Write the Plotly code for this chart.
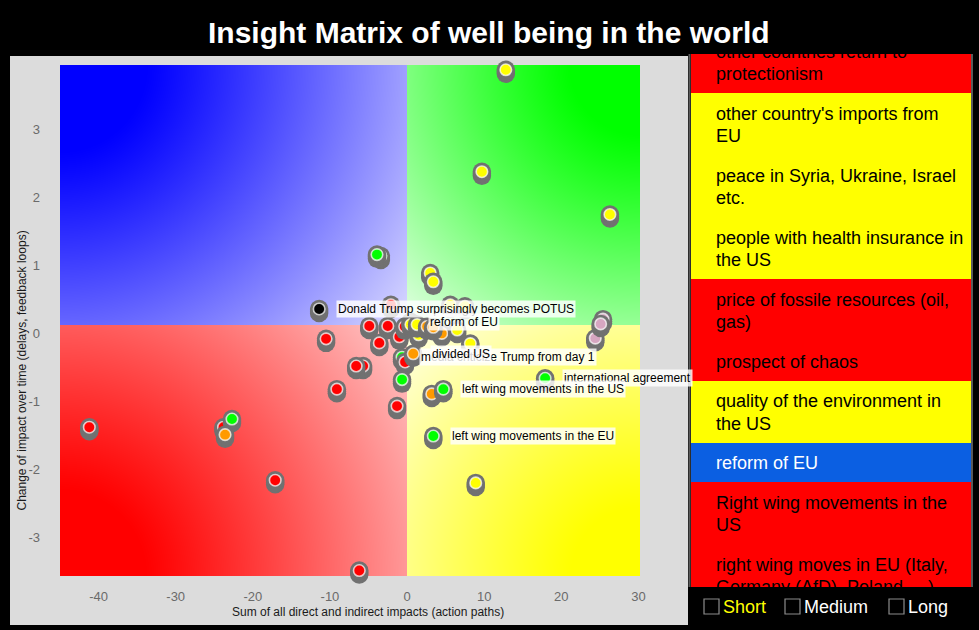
import base64
import struct
import zlib

import numpy as np
import plotly.graph_objects as go

# ---------------- data ----------------
TITLE = "Insight Matrix of well being in the world"
X_TITLE = "Sum of all direct and indirect impacts (action paths)"
Y_TITLE = "Change of impact over time (delays, feedback loops)"

x_ticks = [-40, -30, -20, -10, 0, 10, 20, 30]
x_tick_text = ["-40", "-30", "-20", "-10", "0", "10", "20", "30"]
y_ticks = [-3, -2, -1, 0, 1, 2, 3]
y_tick_text = ["-3", "-2", "-1", "0", "1", "2", "3"]

# factor positions (sum of impacts, change over time) and colour class, in drawing order
pt_x = [-41.2, -23.8, -22.7, -23.6, -17.1, -6.2, -10.5, -9.1, -5.7, -6.6,
        -1.3, -3.4, -3.9, 12.8, 9.7, 26.3, 3.0, 3.4, 8.2, 8.9,
        24.4, 25.4, 25.1, -2.1, 5.6, 7.5, -3.6, -4.9, -2.5, -1.0,
        1.5, 4.5, 6.5, -0.3, 0.45, 0.5, 1.3, 2.6, 3.4, -0.65,
        -0.26, 0.8, -0.65, 3.2, 4.7, 3.4, 17.9, -11.4]
pt_y = [-1.38, -1.38, -1.26, -1.49, -2.16, -3.49, -0.08, -0.82, -0.48, -0.48,
        -1.07, 1.14, 1.16, 3.88, 2.38, 1.75, 0.89, 0.76, -0.15, -2.20,
        -0.07, 0.21, 0.14, 0.42, 0.42, 0.40, -0.14, 0.11, 0.11, -0.05,
        -0.02, 0.0, 0.05, 0.10, 0.17, 0.13, 0.13, 0.10, 0.09, -0.35,
        -0.42, -0.30, -0.68, -0.89, -0.82, -1.51, -0.66, 0.36]
pt_cls = ["red", "red", "green", "orange", "red", "red", "red", "red", "red", "red",
          "red", "green", "green", "yellow", "yellow", "yellow", "yellow", "yellow", "yellow", "yellow",
          "mauve", "mauve", "mauve", "red", "yellow", "yellow", "red", "red", "red", "red",
          "yellow", "orange", "yellow", "red", "green", "yellow", "yellow", "orange", "orange", "green",
          "red", "orange", "green", "orange", "green", "green", "green", "black"]

label_idx = [39, 41, 46, 44, 45, 47, 34]
label_txt = ["media criticize Trump from day 1", "divided US", "international agreement",
             "left wing movements in the US", "left wing movements in the EU",
             "Donald Trump surprisingly becomes POTUS", "reform of EU"]

list_lines = [
    ["other countries return to", "protectionism"],
    ["other country's imports from", "EU"],
    ["peace in Syria, Ukraine, Israel", "etc."],
    ["people with health insurance in", "the US"],
    ["price of fossile resources (oil,", "gas)"],
    ["prospect of chaos"],
    ["quality of the environment in", "the US"],
    ["reform of EU"],
    ["Right wing movements in the", "US"],
    ["right wing moves in EU (Italy,", "Germany (AfD), Poland, ...)"],
]
list_cls = ["red", "yellow", "yellow", "yellow", "red", "red", "yellow", "selected", "red", "red"]

timeframes = ["Short", "Medium", "Long"]
timeframe_active = [True, False, False]

# ---------------- styling ----------------
FONT = "Liberation Sans, Arial, Helvetica, sans-serif"
COLORS = {"red": "#ff0000", "green": "#00ff00", "yellow": "#ffff00", "orange": "#ff9a00",
          "mauve": "#d6a6c1", "black": "#000000", "selected": "#0b5fe2"}

FIG_W, FIG_H = 979, 630
PLOT_L, PLOT_R, PLOT_T, PLOT_B = 60, 640, 65, 576
X_RANGE = [-45.0, 30.2]
Y_RANGE = [-3.57, 3.95]
X_SPLIT, Y_SPLIT = 0.0, 0.125
LIST_L, LIST_R, LIST_T, LIST_B = 691, 971, 54, 587
LIST_SCROLL = -23.0
LINE_H = 22.5


def fx(px):
    return px / FIG_W


def fy(py):
    return 1 - py / FIG_H


# ---------------- quadrant gradient background ----------------
PW, PH = PLOT_R - PLOT_L, PLOT_B - PLOT_T
sx = (X_SPLIT - X_RANGE[0]) / (X_RANGE[1] - X_RANGE[0]) * PW
sy = (Y_RANGE[1] - Y_SPLIT) / (Y_RANGE[1] - Y_RANGE[0]) * PH
cc, rr = np.meshgrid(np.arange(PW) + 0.5, np.arange(PH) + 0.5)
img = np.zeros((PH, PW, 3), dtype=float)
quads = [  # (left?, top?, full colour, max whiteness)
    (True, True, (0, 0, 255), 0.86),
    (False, True, (0, 255, 0), 0.90),
    (True, False, (255, 0, 0), 0.80),
    (False, False, (255, 255, 0), 0.92),
]
for left, top, full, wmax in quads:
    ox = 0.0 if left else PW
    oy = 0.0 if top else PH
    mask = ((cc < sx) == left) & ((rr < sy) == top)
    diag = np.hypot(sx - ox, sy - oy)
    d = np.hypot(cc - ox, rr - oy) / diag
    w = wmax * np.clip((d - 0.2) / 0.8, 0, 1) ** 1.1
    for k in range(3):
        img[..., k] = np.where(mask, full[k] * (1 - w) + 255 * w, img[..., k])
img = np.clip(np.round(img), 0, 255).astype(np.uint8)


def to_png(arr):
    h, w, _ = arr.shape
    raw = b"".join(b"\x00" + arr[i].tobytes() for i in range(h))

    def chunk(t, data):
        return struct.pack(">I", len(data)) + t + data + struct.pack(">I", zlib.crc32(t + data) & 0xFFFFFFFF)

    return (b"\x89PNG\r\n\x1a\n" + chunk(b"IHDR", struct.pack(">IIBBBBB", w, h, 8, 2, 0, 0, 0))
            + chunk(b"IDAT", zlib.compress(raw, 9)) + chunk(b"IEND", b""))


bg_uri = "data:image/png;base64," + base64.b64encode(to_png(img)).decode()

# ---------------- figure ----------------
fig = go.Figure()

# markers: gray 3D button (shadow) + coloured cap, drawn point by point
ppu = PH / (Y_RANGE[1] - Y_RANGE[0])
mx, my, ms, mc, mlc, mlw = [], [], [], [], [], []
for x, y, c in zip(pt_x, pt_y, pt_cls):
    for off in (4, 2, 0):
        mx.append(x); my.append(y - off / ppu); ms.append(18.5); mc.append("#717171")
        mlc.append("rgba(0,0,0,0)"); mlw.append(0)
    mx.append(x); my.append(y); ms.append(11.5); mc.append(COLORS[c])
    mlc.append("rgba(255,255,255,0.72)"); mlw.append(1.6)

fig.add_trace(go.Scatter(
    x=mx, y=my, mode="markers", cliponaxis=False, hoverinfo="skip", showlegend=False,
    marker=dict(size=ms, color=mc, line=dict(color=mlc, width=mlw), opacity=1),
))

# list on the right
heights = [17 + LINE_H * len(lines) for lines in list_lines]
tops = []
acc = LIST_SCROLL
for h in heights:
    tops.append(acc)
    acc += h
fig.add_trace(go.Bar(
    x=[LIST_R - LIST_L] * len(list_lines), y=[t + h / 2 for t, h in zip(tops, heights)],
    width=heights, base=0, orientation="h", xaxis="x2", yaxis="y2",
    marker=dict(color=[COLORS[c] for c in list_cls], line=dict(width=0)),
    hoverinfo="skip", showlegend=False,
))
tx, ty, tt, tc = [], [], [], []
for lines, top, h, c in zip(list_lines, tops, heights, list_cls):
    first = top + (h - LINE_H * (len(lines) - 1)) / 2 + 2.5
    for k, line in enumerate(lines):
        tx.append(25); ty.append(first + LINE_H * k); tt.append(line)
        tc.append("#ffffff" if c == "selected" else "#000000")
fig.add_trace(go.Scatter(
    x=tx, y=ty, text=tt, mode="text", textposition="middle right", xaxis="x2", yaxis="y2",
    textfont=dict(family=FONT, size=18, color=tc), hoverinfo="skip", showlegend=False,
))

shapes = [
    dict(type="rect", xref="paper", yref="paper", x0=fx(10), x1=fx(688), y0=fy(625), y1=fy(56),
         fillcolor="#dcdcdc", line=dict(width=0), layer="below"),
    dict(type="line", xref="paper", yref="paper", x0=fx(689.5), x1=fx(689.5), y0=fy(LIST_B), y1=fy(LIST_T),
         line=dict(color="#5a5a5a", width=2)),
    dict(type="line", xref="paper", yref="paper", x0=fx(972), x1=fx(972), y0=fy(LIST_B), y1=fy(LIST_T),
         line=dict(color="#5a5a5a", width=2)),
]

annotations = [
    dict(text="<b>" + TITLE + "</b>", xref="paper", yref="paper", x=fx(489), y=fy(32),
         xanchor="center", yanchor="middle", showarrow=False,
         font=dict(family=FONT, size=30, color="#ffffff")),
    dict(text=X_TITLE, xref="paper", yref="paper", x=fx(368), y=fy(612), xanchor="center",
         yanchor="middle", showarrow=False, font=dict(family=FONT, size=12, color="#1a1a1a")),
    dict(text=Y_TITLE, xref="paper", yref="paper", x=fx(21.5), y=fy(371), xanchor="center",
         yanchor="middle", textangle=-90, showarrow=False, font=dict(family=FONT, size=12, color="#1a1a1a")),
]
for i, txt in zip(label_idx, label_txt):
    annotations.append(dict(
        text=txt, x=pt_x[i], y=pt_y[i], xref="x", yref="y", xanchor="left", yanchor="middle",
        xshift=17, showarrow=False, bgcolor="rgba(255,255,255,0.82)", borderpad=1,
        font=dict(family=FONT, size=12, color="#000000"),
    ))

# timeframe checkboxes
box_x = [704, 785, 889]
for bx, name, active in zip(box_x, timeframes, timeframe_active):
    shapes.append(dict(type="rect", xref="paper", yref="paper", x0=fx(bx), x1=fx(bx + 15),
                       y0=fy(614), y1=fy(599), line=dict(color="#8c8c8c", width=1.2),
                       fillcolor="#000000"))
    annotations.append(dict(text=name, xref="paper", yref="paper", x=fx(bx + 17), y=fy(607),
                            xanchor="left", yanchor="middle", showarrow=False,
                            font=dict(family=FONT, size=18, color="#ffff00" if active else "#ffffff")))

fig.update_layout(
    width=FIG_W, height=FIG_H, autosize=False, margin=dict(l=0, r=0, t=0, b=0, autoexpand=False),
    paper_bgcolor="#000000", plot_bgcolor="rgba(0,0,0,0)",
    font=dict(family=FONT),
    showlegend=False, bargap=0,
    xaxis=dict(domain=[fx(PLOT_L), fx(PLOT_R)], range=X_RANGE, tickvals=x_ticks, ticktext=x_tick_text,
               showgrid=False, zeroline=False, showline=False, ticks="", automargin=False,
               ticklabelstandoff=11, tickfont=dict(size=13, color="#6a6a6a")),
    yaxis=dict(domain=[fy(PLOT_B), fy(PLOT_T)], range=Y_RANGE, tickvals=y_ticks, ticktext=y_tick_text,
               showgrid=False, zeroline=False, showline=False, ticks="", automargin=False,
               ticklabelstandoff=19, tickfont=dict(size=13, color="#6a6a6a")),
    xaxis2=dict(domain=[fx(LIST_L), fx(LIST_R)], range=[0, LIST_R - LIST_L], visible=False,
                anchor="y2", fixedrange=True),
    yaxis2=dict(domain=[fy(LIST_B), fy(LIST_T)], range=[LIST_B - LIST_T, 0], visible=False,
                anchor="x2", fixedrange=True),
    images=[dict(source=bg_uri, xref="x", yref="y", x=X_RANGE[0], y=Y_RANGE[1],
                 sizex=X_RANGE[1] - X_RANGE[0], sizey=Y_RANGE[1] - Y_RANGE[0],
                 sizing="stretch", layer="below", xanchor="left", yanchor="top")],
    shapes=shapes,
    annotations=annotations,
)

fig.write_html(
    "out.html",
    config={"displayModeBar": False, "responsive": False},
    post_script="document.body.style.margin='0';document.body.style.overflow='hidden';",
)
